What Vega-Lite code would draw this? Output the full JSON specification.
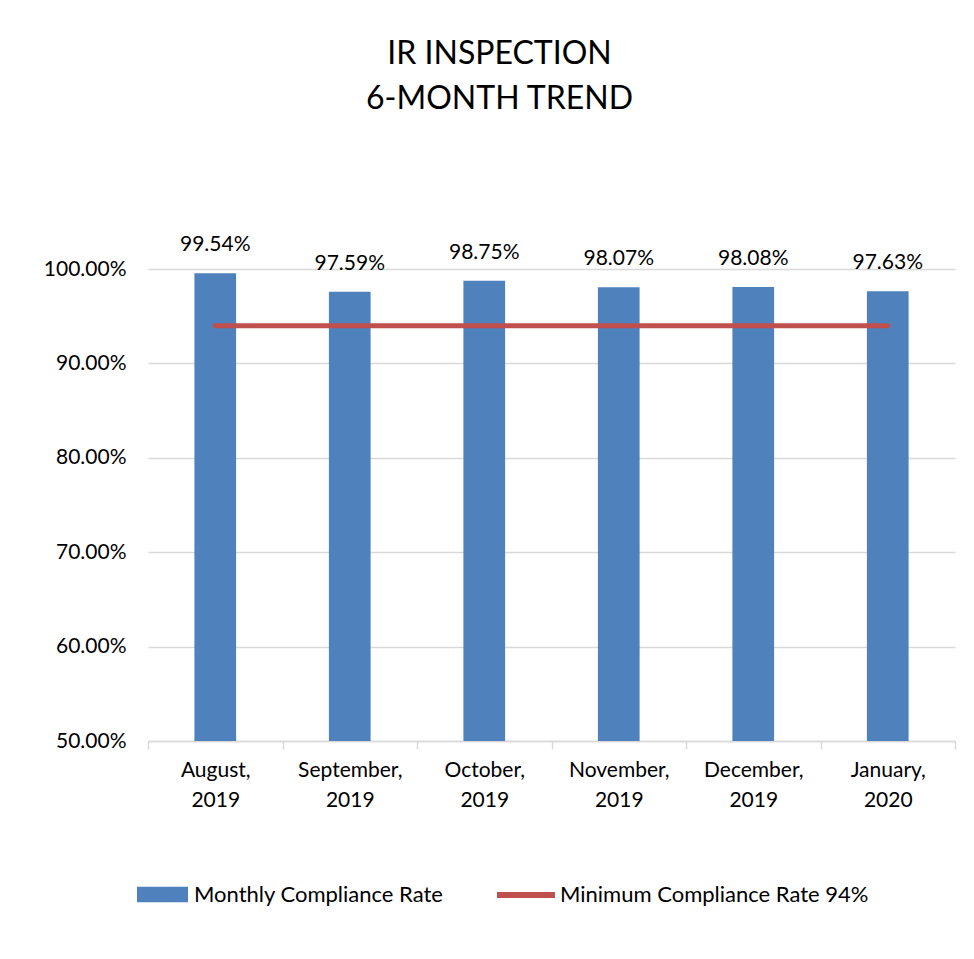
{
  "$schema": "https://vega.github.io/schema/vega-lite/v6.json",
  "width": 807,
  "height": 472,
  "padding": {"left": 43, "top": 38, "right": 10, "bottom": 10},
  "background": "white",
  "title": {
    "text": ["IR INSPECTION", "6-MONTH TREND"],
    "anchor": "middle",
    "frame": "bounds",
    "font": "Lato",
    "fontSize": 32,
    "fontWeight": "normal",
    "color": "#000000",
    "lineHeight": 45,
    "offset": 118
  },
  "data": {
    "values": [
      {"month": "August, 2019", "rate": 0.9954, "minimum": 0.94},
      {"month": "September, 2019", "rate": 0.9759, "minimum": 0.94},
      {"month": "October, 2019", "rate": 0.9875, "minimum": 0.94},
      {"month": "November, 2019", "rate": 0.9807, "minimum": 0.94},
      {"month": "December, 2019", "rate": 0.9808, "minimum": 0.94},
      {"month": "January, 2020", "rate": 0.9763, "minimum": 0.94}
    ]
  },
  "encoding": {
    "x": {
      "field": "month",
      "type": "nominal",
      "sort": null,
      "scale": {"paddingInner": 0, "paddingOuter": 0},
      "axis": {
        "title": null,
        "labelAngle": 0,
        "labelExpr": "split(datum.label, ' ')",
        "labelFont": "Lato",
        "labelFontSize": 21,
        "labelColor": "#000000",
        "labelLineHeight": 30,
        "labelPadding": 10,
        "tickBand": "extent",
        "tickColor": "#D9D9D9",
        "tickWidth": 1.5,
        "tickSize": 8,
        "domainColor": "#D9D9D9",
        "domainWidth": 1.5,
        "grid": false
      }
    }
  },
  "layer": [
    {
      "mark": {"type": "bar", "width": {"band": 0.31}},
      "encoding": {
        "y": {
          "field": "rate",
          "type": "quantitative",
          "scale": {"domain": [0.5, 1], "zero": false, "clamp": false},
          "axis": {
            "title": null,
            "format": ".2%",
            "values": [0.5, 0.6, 0.7, 0.8, 0.9, 1.0],
            "labelFont": "Lato",
            "labelFontSize": 21,
            "labelColor": "#000000",
            "labelPadding": 22,
            "ticks": false,
            "domain": false,
            "gridColor": "#D9D9D9",
            "gridWidth": 1.5
          }
        },
        "y2": {"datum": 0.5},
        "color": {
          "datum": "Monthly Compliance Rate",
          "type": "nominal",
          "scale": {"range": ["#4F81BD"]},
          "legend": {
            "title": null,
            "orient": "none",
            "legendX": -11,
            "legendY": 600,
            "symbolType": "M-1,-0.3H1V0.3H-1Z",
            "symbolSize": 2601,
            "symbolStrokeWidth": 0,
            "labelFont": "Lato",
            "labelFontSize": 22,
            "labelColor": "#000000",
            "labelOffset": 6,
            "labelLimit": 400
          }
        }
      }
    },
    {
      "mark": {"type": "text", "baseline": "bottom", "dy": -18, "font": "Lato", "fontSize": 21, "color": "#000000"},
      "encoding": {
        "y": {"field": "rate", "type": "quantitative"},
        "text": {"field": "rate", "type": "quantitative", "format": ".2%"}
      }
    },
    {
      "mark": {"type": "line", "strokeWidth": 5, "strokeCap": "round"},
      "encoding": {
        "y": {"field": "minimum", "type": "quantitative"},
        "stroke": {
          "datum": "Minimum Compliance Rate 94%",
          "type": "nominal",
          "scale": {"range": ["#C0504D"]},
          "legend": {
            "title": null,
            "orient": "none",
            "legendX": 346,
            "legendY": 594,
            "symbolType": "stroke",
            "symbolSize": 3364,
            "symbolStrokeWidth": 6,
            "labelFont": "Lato",
            "labelFontSize": 22,
            "labelColor": "#000000",
            "labelOffset": 2,
            "labelLimit": 400
          }
        }
      }
    }
  ],
  "config": {
    "view": {"stroke": null}
  }
}
